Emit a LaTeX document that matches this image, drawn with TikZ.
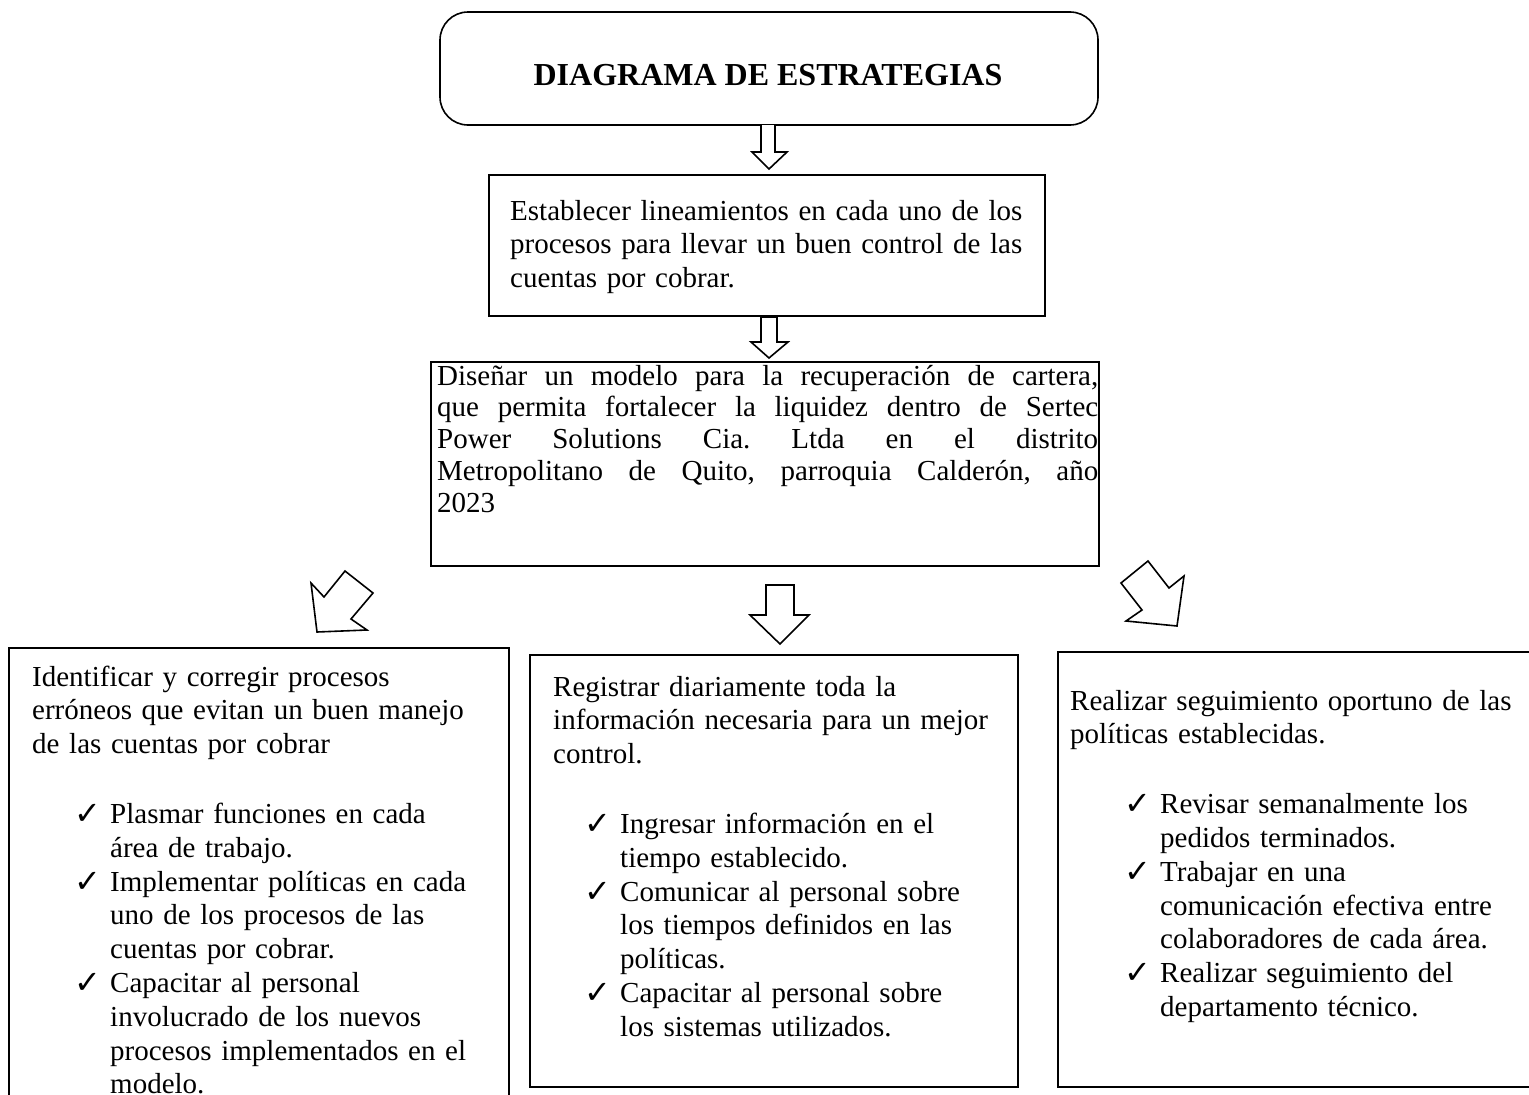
\documentclass[tikz,border=0pt]{standalone}
\usepackage{fontspec}
\setmainfont{Liberation Serif}
\newfontfamily\symfont{DejaVu Sans}
% check mark in a fixed-width slot
\newcommand{\chk}{\makebox[36pt][l]{\raisebox{-1pt}{\symfont\fontsize{32}{32}\selectfont ✓}}}
\begin{document}
\frenchspacing
\begin{tikzpicture}[x=1pt,y=-1pt,
  frame/.style={draw=black,line width=1.6pt,inner sep=0pt},
  blockarrow/.style={draw=black,line width=1.6pt,fill=white,line join=miter},
  body/.style={inner sep=0pt,anchor=base west,align=left,text width=#1,
    font=\fontsize{29}{33.8}\selectfont\frenchspacing},
  body/.default=560pt
]
\useasboundingbox (0,0) rectangle (1529,1095);

% title
\node[frame,rounded corners=28pt,minimum width=658pt,minimum height=113pt]
  (title) at (769,68.5) {};
\node[inner sep=0pt,font=\fontsize{32}{36}\selectfont\bfseries] (titletext)
  at (768,75) {DIAGRAMA DE ESTRATEGIAS};

% second level
\node[frame,minimum width=556pt,minimum height=141pt] (b2) at (767,245.5) {};
\node[body] (b2text) at (510,220) {Establecer lineamientos en cada uno de los\\
procesos para llevar un buen control de las\\
cuentas por cobrar.};

% third level
\node[frame,minimum width=668pt,minimum height=204pt] (b3) at (765,464) {};
\node[inner sep=0pt,anchor=base west,align=justify,text width=661pt,
  font=\fontsize{29}{31.8}\selectfont\frenchspacing] (b3text) at (437,385)
 {Diseñar un modelo para la recuperación de cartera,\linebreak
  que permita fortalecer la liquidez dentro de Sertec\linebreak
  Power Solutions Cia. Ltda en el distrito\linebreak
  Metropolitano de Quito, parroquia Calderón, año\linebreak
  2023\par};

% bottom row
\node[frame,minimum width=500pt,minimum height=470pt] (bl) at (259,883) {};
\node[frame,minimum width=488pt,minimum height=432pt] (bm) at (774,871) {};
\node[frame,minimum width=490pt,minimum height=435pt] (br) at (1303,869.5) {};

\node[body] (bltext) at (32,686) {Identificar y corregir procesos\\
erróneos que evitan un buen manejo\\
de las cuentas por cobrar\\[36pt]
\hspace*{42pt}\chk Plasmar funciones en cada\\
\hspace*{78pt}área de trabajo.\\
\hspace*{42pt}\chk Implementar políticas en cada\\
\hspace*{78pt}uno de los procesos de las\\
\hspace*{78pt}cuentas por cobrar.\\
\hspace*{42pt}\chk Capacitar al personal\\
\hspace*{78pt}involucrado de los nuevos\\
\hspace*{78pt}procesos implementados en el\\
\hspace*{78pt}modelo.};

\node[body] (bmtext) at (553,696) {Registrar diariamente toda la\\
información necesaria para un mejor\\
control.\\[36pt]
\hspace*{31pt}\chk Ingresar información en el\\
\hspace*{67pt}tiempo establecido.\\
\hspace*{31pt}\chk Comunicar al personal sobre\\
\hspace*{67pt}los tiempos definidos en las\\
\hspace*{67pt}políticas.\\
\hspace*{31pt}\chk Capacitar al personal sobre\\
\hspace*{67pt}los sistemas utilizados.};

\node[body] (brtext) at (1070,710) {Realizar seguimiento oportuno de las\\
políticas establecidas.\\[36pt]
\hspace*{54pt}\chk Revisar semanalmente los\\
\hspace*{90pt}pedidos terminados.\\
\hspace*{54pt}\chk Trabajar en una\\
\hspace*{90pt}comunicación efectiva entre\\
\hspace*{90pt}colaboradores de cada área.\\
\hspace*{54pt}\chk Realizar seguimiento del\\
\hspace*{90pt}departamento técnico.};

% block arrows between the levels
\draw[blockarrow] (761,125) -- (761,152) -- (752,152) -- (769,169)
  -- (787,152) -- (775,152) -- (775,125);
\draw[blockarrow] (761,317) -- (761,342) -- (751,342) -- (769,358)
  -- (788,342) -- (777,342) -- (777,317) -- cycle;
\draw[blockarrow] (345,571) -- (373,593) -- (351,619) -- (367,630)
  -- (317,632) -- (311,583) -- (324,597) -- cycle;
\draw[blockarrow] (766,585) -- (766,615) -- (750,615) -- (780,644)
  -- (809,615) -- (794,615) -- (794,585) -- cycle;
\draw[blockarrow] (1148,561) -- (1169,588) -- (1184,576) -- (1177,626)
  -- (1126,621) -- (1142,610) -- (1121,583) -- cycle;
\end{tikzpicture}
\end{document}
